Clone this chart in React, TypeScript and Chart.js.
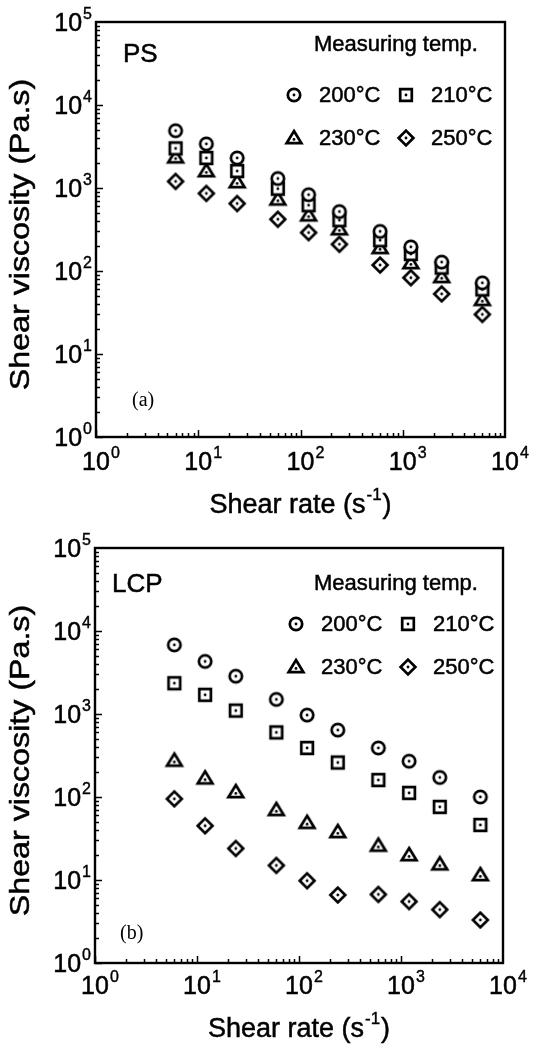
import React, { useEffect, useRef } from 'react';
import { Chart, registerables } from 'chart.js';

Chart.register(...registerables);

// ---- data ----
const shearRate = [6, 12, 24, 60, 120, 240, 600, 1200, 2400, 6000];

const ps200 = [4900, 3400, 2300, 1300, 830, 520, 300, 195, 128, 72];
const ps210 = [3000, 2300, 1600, 980, 620, 410, 235, 160, 110, 60];
const ps230 = [2350, 1600, 1180, 730, 470, 320, 190, 125, 85, 45];
const ps250 = [1200, 860, 650, 420, 290, 210, 118, 83, 53, 30];

const lcp200 = [6800, 4300, 2850, 1500, 970, 640, 390, 270, 172, 100];
const lcp210 = [2350, 1700, 1100, 600, 390, 260, 160, 112, 76, 46];
const lcp230 = [275, 168, 115, 70, 49, 38, 26, 20, 15.5, 11.5];
const lcp250 = [95, 45, 24, 15, 9.8, 6.6, 6.7, 5.5, 4.4, 3.3];

const tempLabels = ['200°C', '210°C', '230°C', '250°C'];
const markerKinds = ['circle', 'square', 'triangle', 'diamond'];
const xExponents = [0, 1, 2, 3, 4];
const yExponents = [0, 1, 2, 3, 4, 5];
const xTitle = 'Shear rate (s';
const xTitleSup = '-1';
const yTitle = 'Shear viscosity (Pa.s)';
const legendTitle = 'Measuring temp.';

const W = 534;
const H = 524;
const SANS = '"Liberation Sans", Arial, Helvetica, sans-serif';
const SERIF = '"Liberation Serif", "Times New Roman", Times, serif';

function makeMarker(kind: string): HTMLCanvasElement {
  const s = 24;
  const c = document.createElement('canvas');
  c.width = s;
  c.height = s;
  const g = c.getContext('2d')!;
  g.translate(s / 2, s / 2);
  g.strokeStyle = '#000';
  g.fillStyle = '#fff';
  g.lineWidth = 2.7;
  g.lineJoin = 'miter';
  g.beginPath();
  let dy = 0;
  if (kind === 'circle') {
    g.arc(0, 0, 6.2, 0, Math.PI * 2);
  } else if (kind === 'square') {
    g.rect(-5.8, -5.8, 11.6, 11.6);
  } else if (kind === 'triangle') {
    g.moveTo(0, -7);
    g.lineTo(7.4, 5.2);
    g.lineTo(-7.4, 5.2);
    g.closePath();
    dy = 1.4;
  } else {
    g.moveTo(0, -7.4);
    g.lineTo(7.4, 0);
    g.lineTo(0, 7.4);
    g.lineTo(-7.4, 0);
    g.closePath();
  }
  g.fill();
  g.stroke();
  g.fillStyle = '#000';
  g.beginPath();
  g.arc(0, dy, 1.4, 0, Math.PI * 2);
  g.fill();
  return c;
}

type Panel = {
  name: string;
  letter: string;
  series: number[][];
  area: { left: number; top: number; right: number; bottom: number };
  namePos: [number, number];
  letterPos: [number, number];
  legendTitlePos: [number, number];
  legendRows: [number, number];
  legendCols: [number, number];
};

const panels: Panel[] = [
  {
    name: 'PS',
    letter: '(a)',
    series: [ps200, ps210, ps230, ps250],
    area: { left: 96, top: 22, right: 505, bottom: 437 },
    namePos: [123, 62],
    letterPos: [132, 406],
    legendTitlePos: [314, 51],
    legendRows: [95, 138],
    legendCols: [294, 406],
  },
  {
    name: 'LCP',
    letter: '(b)',
    series: [lcp200, lcp210, lcp230, lcp250],
    area: { left: 95, top: 24, right: 503, bottom: 439 },
    namePos: [112, 68],
    letterPos: [120, 415],
    legendTitlePos: [314, 66],
    legendRows: [100, 143],
    legendCols: [296, 408],
  },
];

function txt(ctx: CanvasRenderingContext2D, s: string, x: number, y: number, stroke = 0.5) {
  ctx.fillText(s, x, y);
  if (stroke > 0) {
    ctx.lineWidth = stroke;
    ctx.strokeStyle = '#000';
    ctx.strokeText(s, x, y);
  }
}

function drawPow(ctx: CanvasRenderingContext2D, exp: number, x: number, y: number, mode: 'x' | 'y') {
  ctx.textBaseline = 'alphabetic';
  ctx.textAlign = 'left';
  ctx.font = `25px ${SANS}`;
  const w10 = ctx.measureText('10').width;
  ctx.font = `16px ${SANS}`;
  const we = ctx.measureText(String(exp)).width;
  let x0: number;
  let base: number;
  if (mode === 'x') {
    x0 = x - w10 / 2;
    base = y;
  } else {
    x0 = x - we - 1 - w10;
    base = y + 9;
  }
  ctx.font = `25px ${SANS}`;
  txt(ctx, '10', x0, base);
  ctx.font = `16px ${SANS}`;
  txt(ctx, String(exp), x0 + w10 + 1, base - 12, 0.4);
}

function decorPlugin(p: Panel, markers: HTMLCanvasElement[]) {
  return {
    id: 'decor',
    beforeDatasetsDraw(chart: any) {
      const ctx: CanvasRenderingContext2D = chart.ctx;
      const a = chart.chartArea;
      const xs = chart.scales.x;
      const ys = chart.scales.y;
      ctx.save();
      ctx.strokeStyle = '#000';
      ctx.lineWidth = 1.5;
      ctx.beginPath();
      for (let d = 0; d < xExponents.length - 1; d++) {
        for (let m = 1; m < 10; m++) {
          const px = Math.round(xs.getPixelForValue(m * Math.pow(10, d))) + 0.5;
          const len = m === 1 ? 7 : 4;
          ctx.moveTo(px, a.bottom);
          ctx.lineTo(px, a.bottom - len);
        }
      }
      for (let d = 0; d < yExponents.length - 1; d++) {
        for (let m = 1; m < 10; m++) {
          const py = Math.round(ys.getPixelForValue(m * Math.pow(10, d))) + 0.5;
          const len = m === 1 ? 7 : 4;
          ctx.moveTo(a.left, py);
          ctx.lineTo(a.left + len, py);
        }
      }
      ctx.stroke();
      ctx.lineWidth = 2.4;
      ctx.strokeRect(a.left, a.top, a.right - a.left, a.bottom - a.top);
      ctx.restore();
    },
    afterDraw(chart: any) {
      const ctx: CanvasRenderingContext2D = chart.ctx;
      const a = chart.chartArea;
      const xs = chart.scales.x;
      const ys = chart.scales.y;
      ctx.save();
      ctx.fillStyle = '#000';
      // tick labels
      xExponents.forEach((e) => drawPow(ctx, e, xs.getPixelForValue(Math.pow(10, e)), 470, 'x'));
      yExponents.forEach((e) => drawPow(ctx, e, a.left - 4, ys.getPixelForValue(Math.pow(10, e)), 'y'));
      // x title
      ctx.font = `27px ${SANS}`;
      const t1 = ctx.measureText(xTitle).width;
      ctx.font = `17px ${SANS}`;
      const t2 = ctx.measureText(xTitleSup).width;
      ctx.font = `27px ${SANS}`;
      const t3 = ctx.measureText(')').width;
      const cx = (a.left + a.right) / 2;
      const tx = cx - (t1 + t2 + t3 + 2) / 2;
      ctx.textAlign = 'left';
      ctx.textBaseline = 'alphabetic';
      txt(ctx, xTitle, tx, 513);
      ctx.font = `17px ${SANS}`;
      txt(ctx, xTitleSup, tx + t1 + 1, 500, 0.4);
      ctx.font = `27px ${SANS}`;
      txt(ctx, ')', tx + t1 + t2 + 2, 513);
      // y title
      ctx.save();
      ctx.translate(21, (a.top + a.bottom) / 2 + 5);
      ctx.rotate(-Math.PI / 2);
      ctx.scale(1.15, 1);
      ctx.textAlign = 'center';
      ctx.textBaseline = 'middle';
      ctx.font = `28px ${SANS}`;
      txt(ctx, yTitle, 0, 0);
      ctx.restore();
      // panel name and letter
      ctx.textAlign = 'left';
      ctx.textBaseline = 'alphabetic';
      ctx.font = `26px ${SANS}`;
      txt(ctx, p.name, p.namePos[0], p.namePos[1]);
      ctx.font = `20px ${SERIF}`;
      txt(ctx, p.letter, p.letterPos[0], p.letterPos[1], 0);
      // legend
      ctx.font = `22px ${SANS}`;
      txt(ctx, legendTitle, p.legendTitlePos[0], p.legendTitlePos[1]);
      tempLabels.forEach((lab, i) => {
        const row = Math.floor(i / 2);
        const col = i % 2;
        const mx = p.legendCols[col];
        const my = p.legendRows[row];
        const img = markers[i];
        ctx.drawImage(img, mx - img.width / 2, my - img.height / 2);
        ctx.font = `22px ${SANS}`;
        ctx.textBaseline = 'middle';
        txt(ctx, lab, mx + 25, my + 1);
      });
      ctx.restore();
    },
  };
}

function PanelChart({ p }: { p: Panel }) {
  const ref = useRef<HTMLCanvasElement | null>(null);
  useEffect(() => {
    if (!ref.current) return;
    const markers = markerKinds.map(makeMarker);
    const chart = new Chart(ref.current, {
      type: 'scatter',
      data: {
        datasets: p.series.map((vals, i) => ({
          label: tempLabels[i],
          data: shearRate.map((x, j) => ({ x, y: vals[j] })),
          pointStyle: markers[i] as any,
          pointRadius: 7,
          showLine: false,
          order: i,
        })),
      },
      options: {
        responsive: false,
        animation: false,
        layout: {
          padding: {
            left: p.area.left,
            top: p.area.top,
            right: W - p.area.right,
            bottom: H - p.area.bottom,
          },
        },
        plugins: { legend: { display: false }, tooltip: { enabled: false } },
        scales: {
          x: { type: 'logarithmic', min: 1, max: 10000, display: false },
          y: { type: 'logarithmic', min: 1, max: 100000, display: false },
        },
      },
      plugins: [decorPlugin(p, markers)],
    });
    return () => chart.destroy();
  }, [p]);
  return <canvas ref={ref} width={W} height={H} style={{ display: 'block', width: W, height: H }} />;
}

export default function App() {
  return (
    <div style={{ position: 'absolute', left: 0, top: 0, width: W, height: 1048, background: '#fff' }}>
      {panels.map((p) => (
        <PanelChart key={p.name} p={p} />
      ))}
    </div>
  );
}
